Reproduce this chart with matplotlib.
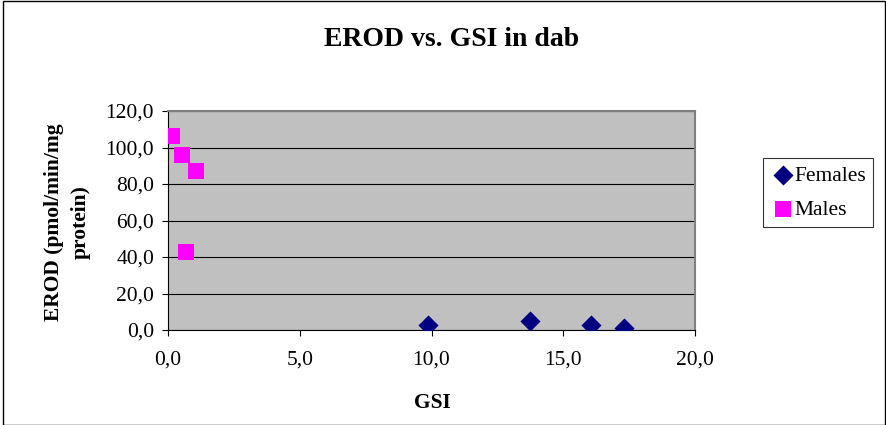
import matplotlib.pyplot as plt
from matplotlib.patches import Rectangle
from matplotlib.ticker import FuncFormatter

plt.rcParams['font.family'] = ['Liberation Serif', 'DejaVu Serif']

# data
females_gsi = [9.87, 13.74, 16.05, 17.3]
females_erod = [2.7, 4.9, 2.7, 1.1]
males_gsi = [0.15, 0.53, 1.06, 0.68]
males_erod = [106.3, 95.9, 87.1, 42.7]

fig = plt.figure(figsize=(8.86, 4.25), dpi=100)
ax = fig.add_axes([168/886, 1 - 330/425, (695-168)/886, (330-111)/425])
ax.set_facecolor('#c0c0c0')

ax.scatter(females_gsi, females_erod, marker='D', s=105, color='#000080', label='Females', zorder=3, linewidths=0)
ax.scatter(males_gsi, males_erod, marker='s', s=125, color='#ff00ff', label='Males', zorder=3, linewidths=0)

ax.set_xlim(0, 20)
ax.set_ylim(0, 120)
ax.set_xticks([0, 5, 10, 15, 20])
ax.set_yticks(range(0, 121, 20))
fmt = FuncFormatter(lambda v, p: f'{v:.1f}'.replace('.', ','))
ax.xaxis.set_major_formatter(fmt)
ax.yaxis.set_major_formatter(fmt)
ax.tick_params(direction='out', length=4, width=0.8, labelsize=15.5, pad=6)
ax.tick_params(axis='x', pad=11)
ax.grid(axis='y', color='black', linewidth=0.8)
ax.set_axisbelow(True)
for s in ['top', 'right']:
    ax.spines[s].set_color('#808080')
    ax.spines[s].set_linewidth(1.5)
for s in ['left', 'bottom']:
    ax.spines[s].set_color('black')
    ax.spines[s].set_linewidth(0.8)

fig.text(452/886, 1 - 40/425, 'EROD vs. GSI in dab', ha='center', va='center',
         fontsize=20, fontweight='bold')
fig.text(432/886, 1 - 403/425, 'GSI', ha='center', va='center', fontsize=15.5, fontweight='bold')
fig.text(67/886, 1 - 222/425, 'EROD (pmol/min/mg\nprotein)', ha='center', va='center',
         rotation=90, fontsize=15.5, fontweight='bold', linespacing=1.45)

leg = fig.legend(loc='upper left', bbox_to_anchor=(763/886, 1 - 158/425), fontsize=15.5,
                 frameon=True, fancybox=False, edgecolor='black', handletextpad=-0.1,
                 handlelength=1.2, borderpad=0.35, labelspacing=0.65, borderaxespad=0,
                 markerscale=1.0)
leg.get_frame().set_linewidth(0.8)

fig.patches.append(Rectangle((3/886, 0), 1 - 4/886, 1 - 1/425, transform=fig.transFigure,
                             fill=False, edgecolor='black', linewidth=1))

fig.savefig('out.png', dpi=100)
